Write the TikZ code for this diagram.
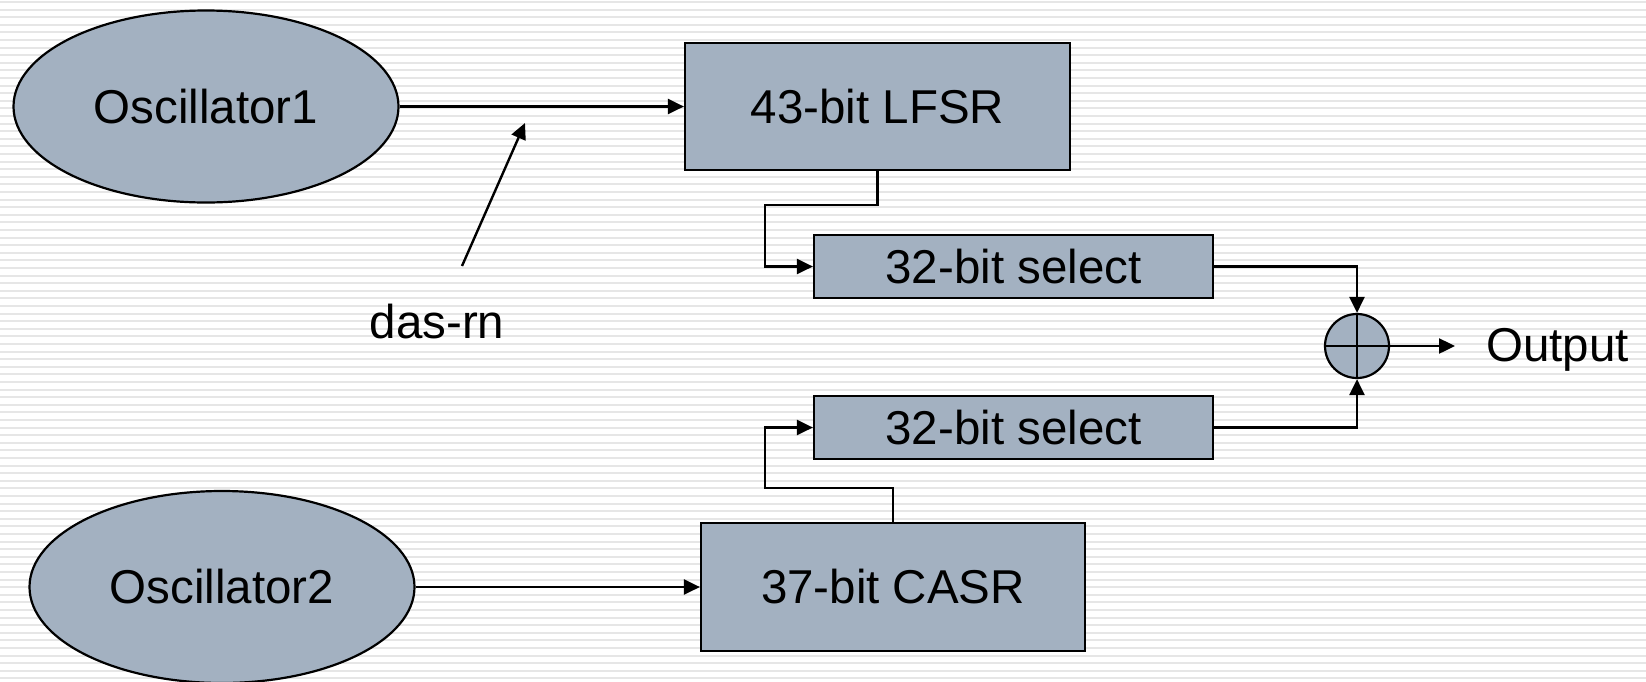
\documentclass[tikz,border=0pt]{standalone}
\usepackage{fontspec}
\setmainfont{Liberation Sans}
\usetikzlibrary{shapes.geometric,arrows.meta}
\definecolor{boxfill}{RGB}{163,177,193}
\definecolor{stripe}{RGB}{230,230,230}
\tikzset{
  every node/.style={font=\fontsize{47.5}{54}\selectfont},
  osc/.style={ellipse,draw=black,line width=2.2pt,fill=boxfill,minimum width=385pt,minimum height=192pt,inner sep=0pt},
  blk/.style={rectangle,draw=black,line width=2.2pt,fill=boxfill,inner sep=0pt},
  conn/.style={line width=2.4pt,-{Triangle[length=16pt,width=15pt]}},
  xorc/.style={circle,draw=black,line width=2.2pt,fill=boxfill,minimum size=64pt,inner sep=0pt},
}
\begin{document}
\begin{tikzpicture}[x=1pt,y=-1pt]
\useasboundingbox (0,0) rectangle (1646,681);
\fill[white] (0,0) rectangle (1646,681);
\foreach \i in {0,...,89} {
  \fill[stripe] (0,\i*7.6+1) rectangle (1646,\i*7.6+3);
}
% nodes
\node[osc] (o1) at (206,106.5) {Oscillator1};
\node[osc] (o2) at (222,587) {Oscillator2};
\node[blk,minimum width=385pt,minimum height=127pt] (lfsr) at (877.5,106.5) {43-bit LFSR};
\node[blk,minimum width=399pt,minimum height=63pt] (sel1) at (1013.5,266.5) {32-bit select};
\node[blk,minimum width=399pt,minimum height=63pt] (sel2) at (1013.5,427.5) {32-bit select};
\node[blk,minimum width=384pt,minimum height=128pt] (casr) at (893,587) {37-bit CASR};
\node[xorc] (xor) at (1357,346) {};
\draw[line width=2.2pt] (xor.north) -- (xor.south) (xor.west) -- (xor.east);
\node[anchor=west,inner sep=0pt] (out) at (1486,350) {Output};
\node (das) at (437,322) {das-rn};
\coordinate (dasA) at (462,266);
\coordinate (dasB) at (525,123);
\coordinate (outEnd) at (1455,346);
% connectors
\draw[conn] (o1.east) -- (o1.east -| lfsr.west);
\draw[conn] (o2.east) -- (o2.east -| casr.west);
\draw[conn] (dasA) -- (dasB);
\draw[conn] (lfsr.south) -- ++(0,34) -| ([xshift=-48pt]sel1.west) -- (sel1.west);
\draw[conn] (casr.north) -- ++(0,-34) -| ([xshift=-48pt]sel2.west) -- (sel2.west);
\draw[conn] (sel1.east) -| (xor.north);
\draw[conn] (sel2.east) -| (xor.south);
\draw[conn] (xor.east) -- (outEnd);
\end{tikzpicture}
\end{document}
